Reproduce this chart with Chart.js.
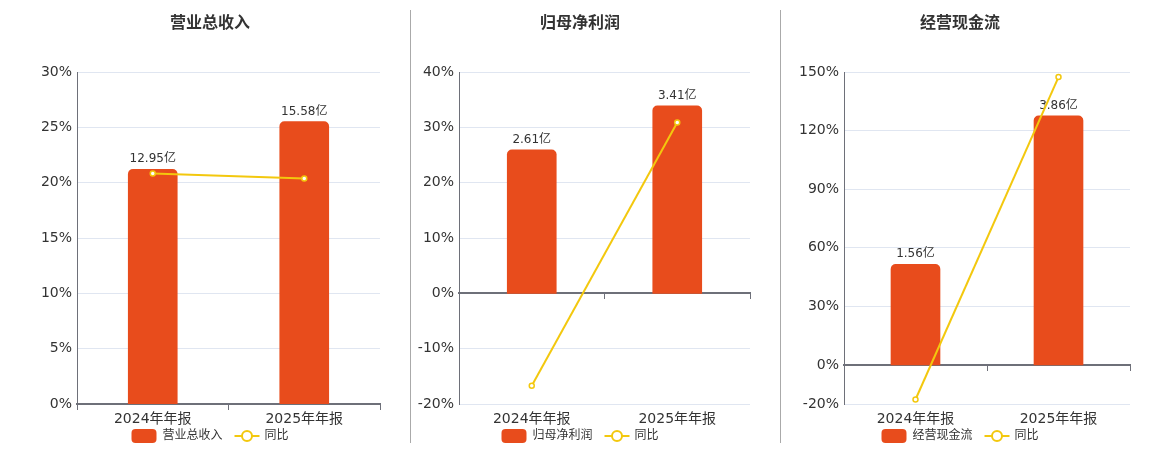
<!DOCTYPE html>
<html lang="zh">
<head>
<meta charset="UTF-8" />
<title>财务指标</title>
<script src="https://cdn.jsdelivr.net/npm/chart.js"></script>
<style>
  html, body { margin: 0; padding: 0; background: #fff; }
  #wrap { position: relative; width: 1160px; height: 450px; overflow: hidden; }
  .panel { position: absolute; top: 0; }
  .sep { position: absolute; top: 10px; width: 1px; height: 433px; background: #aaa; }
</style>
</head>
<body>
<div id="wrap">
  <div class="panel" style="left:20px"><canvas id="c1" width="380" height="450"></canvas></div>
  <div class="panel" style="left:400px"><canvas id="c2" width="360" height="450"></canvas></div>
  <div class="panel" style="left:780px"><canvas id="c3" width="360" height="450"></canvas></div>
  <div class="sep" style="left:410px"></div>
  <div class="sep" style="left:780px"></div>
</div>
<script>
  // data (亿元 / 同比 %)
  const categories = ['2024年年报', '2025年年报'];
  const revenue = [12.95, 15.58];
  const revenueYoy = [20.83, 20.38];
  const profit = [2.61, 3.41];
  const profitYoy = [-16.7, 30.9];
  const cashflow = [1.56, 3.86];
  const cashflowYoy = [-17.7, 147.5];

  const revenueTicks = [0, 5, 10, 15, 20, 25, 30];
  const profitTicks = [-20, -10, 0, 10, 20, 30, 40];
  const cashflowTicks = [-20, 0, 30, 60, 90, 120, 150];

  const BAR = '#e84c1c';
  const LINE = '#f3c80e';
  const TXT = '#333';
  const FONT = '"DejaVu Sans", "Noto Sans CJK SC", sans-serif';

  Chart.defaults.devicePixelRatio = 1;

  const barLabels = {
    id: 'barLabels',
    afterDatasetDraw(chart, args) {
      if (args.index !== 0) return;
      const ctx = chart.ctx;
      ctx.save();
      ctx.font = '12px ' + FONT;
      ctx.fillStyle = TXT;
      ctx.textAlign = 'center';
      ctx.textBaseline = 'bottom';
      args.meta.data.forEach((el, i) => {
        ctx.fillText(chart.data.datasets[0].data[i] + '亿', el.x, el.y - 4);
      });
      ctx.restore();
    }
  };

  // bottom legend, drawn by hand so the spacing matches
  const bottomLegend = {
    id: 'bottomLegend',
    afterDraw(chart) {
      const ctx = chart.ctx;
      const ds = chart.data.datasets;
      const pad = chart.options.layout.padding;
      const cx = (pad.left + chart.width - pad.right) / 2;
      const cy = 436;
      ctx.save();
      ctx.font = '12px ' + FONT;
      const w0 = ctx.measureText(ds[0].label).width;
      const w1 = ctx.measureText(ds[1].label).width;
      const total = 25 + 6 + w0 + 12 + 25 + 5 + w1;
      let x = cx - total / 2;
      ctx.fillStyle = BAR;
      ctx.beginPath();
      ctx.roundRect(x, cy - 7, 25, 14, 4);
      ctx.fill();
      ctx.fillStyle = TXT;
      ctx.textBaseline = 'middle';
      ctx.fillText(ds[0].label, x + 31, cy);
      x += 31 + w0 + 12;
      ctx.strokeStyle = LINE;
      ctx.lineWidth = 2;
      ctx.beginPath(); ctx.moveTo(x, cy); ctx.lineTo(x + 25, cy); ctx.stroke();
      ctx.fillStyle = '#fff';
      ctx.beginPath(); ctx.arc(x + 12.5, cy, 5, 0, Math.PI * 2); ctx.fill(); ctx.stroke();
      ctx.fillStyle = TXT;
      ctx.fillText(ds[1].label, x + 30, cy);
      ctx.restore();
    }
  };

  function makeChart(id, title, name, bars, yoy, ticks, barRange, yWidth, pad) {
    new Chart(document.getElementById(id), {
      data: {
        labels: categories,
        datasets: [
          {
            type: 'bar', label: name, data: bars, yAxisID: 'y1', xAxisID: 'x',
            backgroundColor: BAR, borderRadius: { topLeft: 5, topRight: 5 }, borderSkipped: 'bottom',
            barThickness: 49, order: 2
          },
          {
            type: 'line', label: '同比', data: yoy, yAxisID: 'y', xAxisID: 'x',
            borderColor: LINE, borderWidth: 2, pointRadius: 2.5, pointBorderWidth: 1.5,
            pointBackgroundColor: '#fff', pointBorderColor: LINE, tension: 0, order: 1
          }
        ]
      },
      options: {
        responsive: false,
        animation: false,
        layout: { padding: { left: pad[0], right: pad[1], top: 0, bottom: 21 } },
        plugins: {
          tooltip: { enabled: false },
          legend: { display: false },
          title: {
            display: true, text: title, color: TXT,
            font: { family: FONT, size: 16, weight: 'bold' },
            padding: { top: 14, bottom: 39 }
          }
        },
        scales: {
          x: {
            type: 'category', position: 'bottom', offset: true,
            grid: { display: false, drawTicks: false }, border: { display: false },
            afterFit: s => { s.height = 25; },
            ticks: { color: TXT, font: { family: FONT, size: 14 }, padding: 7 }
          },
          xz: {
            type: 'category', position: { y: 0 }, offset: true,
            grid: { offset: true, drawOnChartArea: false, drawTicks: true, tickLength: 5, color: '#6e7079' },
            border: { display: true, color: '#6e7079', width: 2 },
            afterFit: s => { s.height = 0; },
            ticks: { display: false }
          },
          y: {
            type: 'linear', position: 'left',
            min: ticks[0], max: ticks[ticks.length - 1],
            afterBuildTicks: s => { s.ticks = ticks.map(v => ({ value: v })); },
            afterFit: s => { s.width = yWidth; },
            grid: { color: c => c.tick && c.tick.value === 0 ? 'rgba(0,0,0,0)' : '#e0e6f1', drawTicks: false },
            border: { display: true, color: '#6e7079', width: 1 },
            ticks: { color: TXT, font: { family: FONT, size: 14 }, padding: 5, callback: v => v + '%' }
          },
          y1: {
            type: 'linear', display: false, min: barRange[0], max: barRange[1],
            grid: { display: false }
          }
        }
      },
      plugins: [barLabels, bottomLegend]
    });
  }

  makeChart('c1', '营业总收入', '营业总收入', revenue, revenueYoy, revenueTicks, [0, 18.31], 37, [20, 20]);
  makeChart('c2', '归母净利润', '归母净利润', profit, profitYoy, profitTicks, [-2.01, 4.02], 49, [10, 10]);
  makeChart('c3', '经营现金流', '经营现金流', cashflow, cashflowYoy, cashflowTicks, [-0.605, 4.537], 54, [10, 10]);
</script>
</body>
</html>
